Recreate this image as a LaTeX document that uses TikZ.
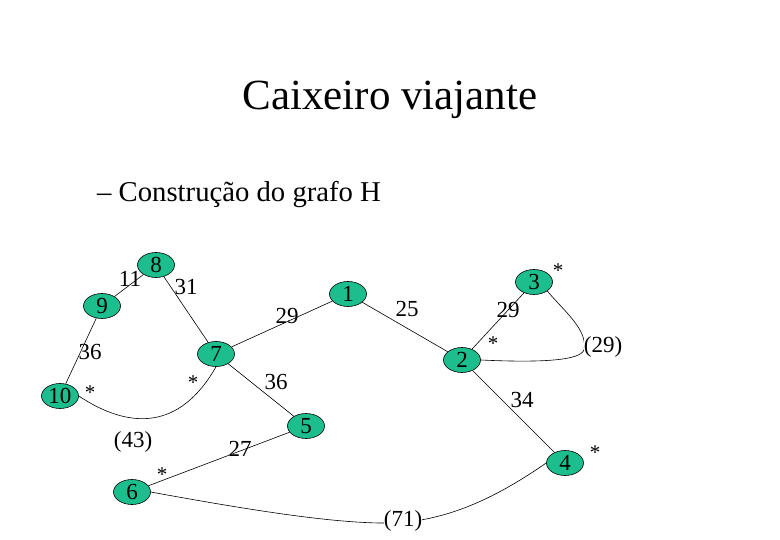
\documentclass[tikz,border=0pt]{standalone}
\usepackage{fontspec}
\setmainfont{Liberation Serif}
\usetikzlibrary{shapes.geometric}
\definecolor{nodegreen}{RGB}{28,190,142}
\tikzset{
  vert/.style={ellipse, draw=black, line width=0.6pt, fill=nodegreen, minimum width=37pt, minimum height=25pt, inner sep=0pt, font=\fontsize{23}{23}\selectfont},
  wlab/.style={inner sep=0pt, font=\fontsize{23}{23}\selectfont},
  star/.style={inner sep=0pt, font=\fontsize{21}{21}\selectfont},
  edge/.style={line width=0.6pt, black}
}
\begin{document}
\begin{tikzpicture}[x=1pt,y=-1pt]
\useasboundingbox (0,0) rectangle (780,540);
% titles
\node[anchor=base, inner sep=0pt, font=\fontsize{43}{43}\selectfont] (title) at (390,110) {Caixeiro viajante};
\node[anchor=base west, inner sep=0pt, font=\fontsize{28.7}{28.7}\selectfont] (sub) at (97,202) {– Construção do grafo H};
\coordinate (c29) at (584,350);
\coordinate (c71) at (392,523);
% vertices
\node[vert] (n8) at (156,265) {8};
\node[vert] (n9) at (102,306) {9};
\node[vert] (n7) at (216,354) {7};
\node[vert] (n10) at (60,396) {10};
\node[vert] (n5) at (306,426) {5};
\node[vert] (n6) at (132,492) {6};
\node[vert] (n1) at (348,294) {1};
\node[vert] (n2) at (462,360) {2};
\node[vert] (n3) at (534,282) {3};
\node[vert] (n4) at (565,463) {4};
% edges
\draw[edge] (n9) -- (n8);
\draw[edge] (n8) -- (n7);
\draw[edge] (n9) -- (n10);
\draw[edge] (n7) -- (n1);
\draw[edge] (n7) -- (n5);
\draw[edge] (n1) -- (n2);
\draw[edge] (n2) -- (n3);
\draw[edge] (n2) -- (n4);
\draw[edge] (n5) -- (n6);
\draw[edge] (n10.east) .. controls (130,430) and (180,430) .. (n7.south);
\draw[edge] (n2.east) .. controls (545,363) and (580,360) .. (c29) .. controls (588,330) and (565,312) .. (n3.south east);
\draw[edge] (n6.east) .. controls (260,512) and (340,524) .. (c71) .. controls (450,521) and (500,495) .. (n4.west);
% weights
\node[wlab] (l11) at (130,279) {11};
\node[wlab] (l31) at (186,287) {31};
\node[wlab] (l36a) at (90,352) {36};
\node[wlab] (l29a) at (287,316) {29};
\node[wlab] (l36b) at (276,382) {36};
\node[wlab] (l25) at (407,309) {25};
\node[wlab] (l29b) at (508,310) {29};
\node[wlab, fill=white, inner xsep=0.3pt] (l29c) at (603,347) {(29)};
\node[wlab] (l34) at (522,400) {34};
\node[wlab] (l43) at (133,442) {(43)};
\node[wlab] (l27) at (240,449) {27};
\node[wlab, fill=white, inner xsep=0.3pt] (l71) at (403,521) {(71)};
% stars
\node[star] (s10) at (90,393) {*};
\node[star] (s7) at (193,383) {*};
\node[star] (s3) at (558,271) {*};
\node[star] (s2) at (493,344) {*};
\node[star] (s4) at (595,453) {*};
\node[star] (s6) at (162,475) {*};
\end{tikzpicture}
\end{document}
